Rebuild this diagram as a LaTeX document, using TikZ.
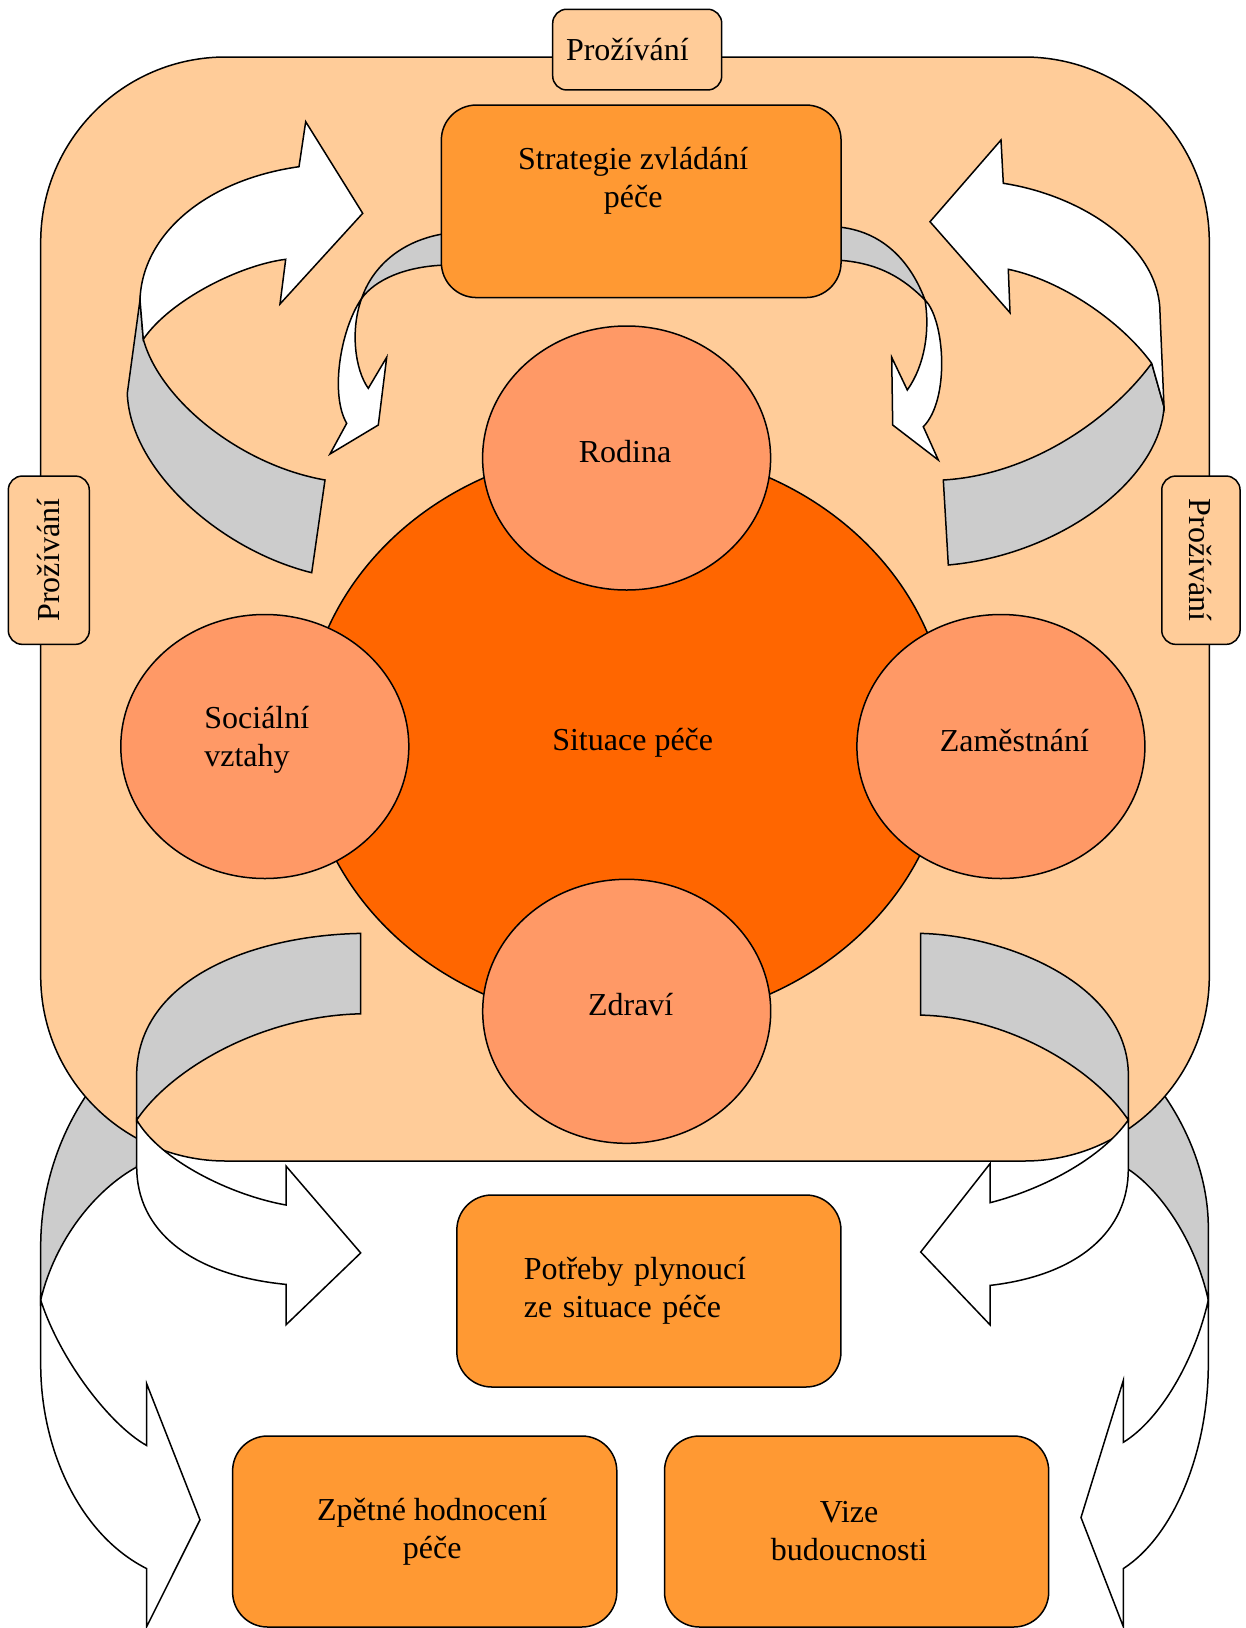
\documentclass[tikz,border=0pt]{standalone}
\usepackage{fontspec}
\setmainfont{Liberation Serif}
\usetikzlibrary{shapes.geometric,positioning}
\definecolor{peach}{HTML}{FFCC99}
\definecolor{boxor}{HTML}{FF9933}
\definecolor{ovalor}{HTML}{FF9966}
\definecolor{circor}{HTML}{FF6600}
\definecolor{greyb}{HTML}{CCCCCC}

\begin{document}
\begin{tikzpicture}[x=1pt,y=-1pt,line width=1.5pt,
  every node/.append style={font=\fontsize{32}{38}\selectfont},
  tab/.style={draw,fill=peach,rounded corners=14pt,inner sep=0pt},
  obox/.style={draw,fill=boxor,rounded corners=35pt,inner sep=0pt},
  oval/.style={ellipse,draw,fill=ovalor,inner sep=0pt,minimum width=288pt,minimum height=264pt},
  back/.style={draw,fill=greyb},
  front/.style={draw,fill=white}]
\useasboundingbox (0,0) rectangle (1246,1628);
\fill[white] (0,0) rectangle (1246,1628);

\draw[front] (40.7,1300) -- (40.7,1364.3) .. controls (40.7,1450) and (80,1535) .. (146.7,1568.6)
  -- (146.7,1626.6) -- (200,1519.8) -- (146.7,1383.8) -- (146.7,1445.5)
  .. controls (110,1425) and (60,1360) .. cycle;
\draw[back] (140,1040) .. controls (100,1065) and (42,1140) .. (40.7,1243.6) -- (40.7,1300)
  .. controls (55,1240) and (95,1190) .. (136.7,1167) -- cycle;
\draw[front] (1208.3,1300) -- (1208.3,1364.3) .. controls (1208.3,1450) and (1175,1535) .. (1123.3,1568.6)
  -- (1123.3,1626.6) -- (1081,1517.5) -- (1123.3,1380.5) -- (1123.3,1442.3)
  .. controls (1160,1420) and (1195,1360) .. cycle;
\draw[back] (1110,1040) .. controls (1150,1065) and (1207,1140) .. (1208.3,1225) -- (1208.3,1300)
  .. controls (1195,1240) and (1160,1190) .. (1128.3,1169.3) -- cycle;

\node[draw,fill=peach,rounded corners=185pt,minimum width=1168.6pt,minimum height=1104pt] (f) at (625,609) {};
\node[tab,minimum width=169pt,minimum height=80.7pt,text width=142.4pt,align=left] (t) at (637.2,49.6) {Prožívání};
\node[tab,rotate=90,minimum width=168.3pt,minimum height=81pt] (l) at (48.8,560.2) {Prožívání};
\node[tab,rotate=-90,minimum width=168.3pt,minimum height=78.3pt] (p) at (1200.9,560.2) {Prožívání};

\draw[back] (140,300) -- (127.3,393.3) .. controls (130,470) and (220,550) .. (311.7,572.7)
  -- (325,480) .. controls (240,465) and (160,400) .. (143.3,339.3) -- cycle;
\draw[front] (140,300) .. controls (142,235) and (205,180) .. (299,166.7) -- (305.7,121.7)
  -- (362.7,213.3) -- (280,304) -- (285.7,259.3) .. controls (240,265) and (170,300) .. (143.3,339.3) -- cycle;
\draw[back] (1151.7,363.3) -- (1164,406.7) .. controls (1160,480) and (1060,555) .. (948.3,565)
  -- (943.3,480) .. controls (1030,475) and (1110,420) .. cycle;
\draw[front] (1160,313.3) .. controls (1160,245) and (1080,195) .. (1003.3,183.3) -- (1001,140)
  -- (930,221.7) -- (1010,312.7) -- (1008.3,269.3) .. controls (1060,280) and (1120,320) .. (1151.7,363.3)
  -- (1164,406.7) -- cycle;

\draw[back] (835,226.7) .. controls (885,230) and (912,265) .. (925,300)
  .. controls (905,280) and (880,262) .. (835,260) -- cycle;
\draw[back] (447,233.3) .. controls (400,240) and (372,268) .. (361.7,298.3)
  .. controls (375,280) and (405,266) .. (447,265) -- cycle;
\node[obox,minimum width=399.7pt,minimum height=192.5pt] (st) at (641.2,201.3) {};
\node[inner sep=0pt,align=center,below=42pt of st.north,xshift=-8pt] (stt) {Strategie zvládání\\péče};
\draw[front] (925,300) .. controls (945,320) and (950,400) .. (923.3,426.7) -- (938.3,460)
  -- (892.7,425) -- (891.7,357.3) -- (907.3,390) .. controls (925,365) and (930,330) .. cycle;
\draw[front] (361.7,298.3) .. controls (340,330) and (330,395) .. (346.7,423.3) -- (330,454)
  -- (378.3,425) -- (386.7,357.3) -- (368.3,388.3) .. controls (355,370) and (350,330) .. cycle;

\node[oval,fill=circor,minimum width=644pt,minimum height=576pt] (s) at (626.7,736) {};
\node[oval] (r) at (626.6,458) {};
\node[oval] (v) at (264.8,746.5) {};
\node[oval] (z) at (1000.9,746.5) {};
\node[oval] (d) at (626.7,1011.3) {};
\node[xshift=6pt,yshift=-7pt] (st2) at (s) {Situace péče};
\node[xshift=-1.5pt,yshift=6pt] (rt) at (r) {Rodina};
\node[align=left,xshift=-8pt,yshift=7pt] (vt) at (v) {Sociální\\vztahy};
\node[xshift=13.5pt,yshift=6pt] (zt) at (z) {Zaměstnání};
\node[xshift=4pt,yshift=7pt] (dt) at (d) {Zdraví};

\draw[back] (360.7,933.4) .. controls (260,935) and (140,975) .. (136.7,1071.8) -- (136.7,1120)
  .. controls (170,1070) and (260,1016) .. (360.7,1013.8) -- cycle;
\draw[front] (136.7,1120) -- (136.7,1167) .. controls (136.7,1230) and (190,1275) .. (286,1284.4)
  -- (286,1324.8) -- (360.7,1252.9) -- (286,1166) -- (286,1205) .. controls (230,1195) and (160,1160) .. cycle;
\draw[back] (920.7,933.4) .. controls (1000,935) and (1125,980) .. (1128.3,1071.8) -- (1128.3,1120)
  .. controls (1095,1070) and (1010,1017) .. (920.7,1015.1) -- cycle;
\draw[front] (1128.3,1120) -- (1128.3,1169.3) .. controls (1128.3,1230) and (1080,1275) .. (990,1285.4)
  -- (990,1324.8) -- (920.7,1252) -- (990,1163.7) -- (990,1202.7) .. controls (1040,1190) and (1100,1160) .. cycle;

\node[obox,minimum width=384.1pt,minimum height=192pt,text width=250pt,align=left] (pp) at (648.9,1291) {Potřeby plynoucí\\ze situace péče};
\node[obox,minimum width=384.2pt,minimum height=191pt] (zh) at (424.7,1531.5) {};
\node[obox,minimum width=384.2pt,minimum height=191pt] (vb) at (856.6,1531.5) {};
\node[align=center,xshift=7.5pt] (zht) at (zh) {Zpětné hodnocení\\péče};
\node[align=center,xshift=-7.5pt] (vbt) at (vb) {Vize\\budoucnosti};
\end{tikzpicture}
\end{document}
